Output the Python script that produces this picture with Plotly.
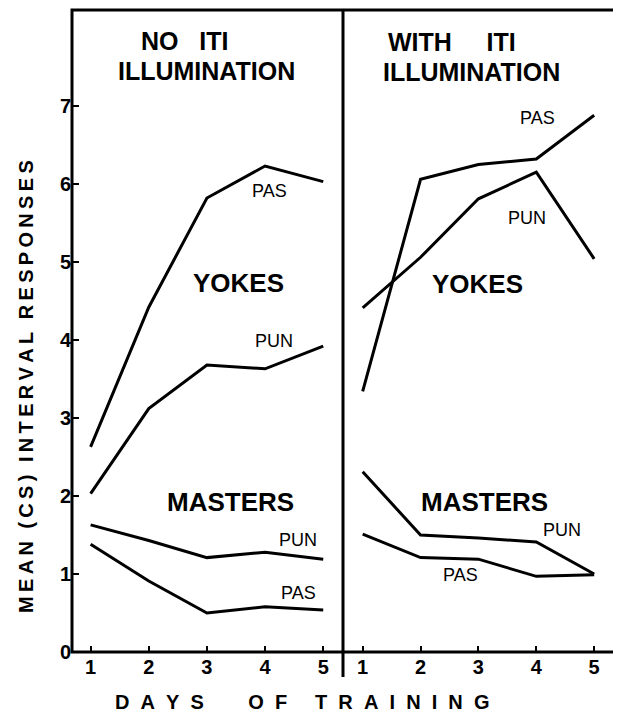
import plotly.graph_objects as go

days = [1, 2, 3, 4, 5]
ytick_vals = [0, 1, 2, 3, 4, 5, 6, 7]
ytick_text = ["0", "1", "2", "3", "4", "5", "6", "7"]
xtick_text = ["1", "2", "3", "4", "5"]

# No ITI illumination (left panel)
no_iti_yokes_pas = [2.63, 4.42, 5.82, 6.23, 6.03]
no_iti_yokes_pun = [2.03, 3.12, 3.68, 3.63, 3.92]
no_iti_masters_pun = [1.63, 1.43, 1.21, 1.28, 1.19]
no_iti_masters_pas = [1.38, 0.91, 0.50, 0.58, 0.54]

# With ITI illumination (right panel)
iti_yokes_pas = [3.34, 6.06, 6.25, 6.32, 6.88]
iti_yokes_pun = [4.41, 5.06, 5.81, 6.15, 5.04]
iti_masters_pun = [2.31, 1.50, 1.46, 1.41, 1.00]
iti_masters_pas = [1.51, 1.21, 1.19, 0.97, 0.99]

# page body has an 8px margin; figure drawn inside it
OFF = 8
W, H = 621 - OFF, 712 - OFF
# plot area in reference pixels: x 72..615, y 10..652
L, R, T, B = 72 - OFF, 621 - 615, 10 - OFF, 712 - 652
PW, PH = 615 - 72, 652 - 10
DIV = (343 - 72) / PW

def px(x):
    return (x - 72) / PW

def py(y):
    return (652 - y) / PH

FONT = "Liberation Sans"
LINE = dict(color="black", width=3)

fig = go.Figure()
for ys in [no_iti_yokes_pas, no_iti_yokes_pun, no_iti_masters_pun, no_iti_masters_pas]:
    fig.add_trace(go.Scatter(x=days, y=ys, mode="lines", line=LINE,
                             xaxis="x", yaxis="y", showlegend=False, hoverinfo="skip"))
for ys in [iti_yokes_pas, iti_yokes_pun, iti_masters_pun, iti_masters_pas]:
    fig.add_trace(go.Scatter(x=days, y=ys, mode="lines", line=LINE,
                             xaxis="x2", yaxis="y", showlegend=False, hoverinfo="skip"))

tickfont = dict(family=FONT, size=20, color="black", weight="bold")
xcommon = dict(tickvals=days, ticktext=xtick_text, ticks="inside", ticklen=6,
               tickwidth=2, tickcolor="black", showgrid=False, zeroline=False,
               showline=False, tickfont=tickfont, ticklabelstandoff=1, anchor="y")

fig.update_layout(
    width=W, height=H,
    margin=dict(l=L, r=R, t=T, b=B, autoexpand=False),
    paper_bgcolor="white", plot_bgcolor="white",
    xaxis=dict(domain=[0, DIV], range=[0.68, 5.34], **xcommon),
    xaxis2=dict(domain=[DIV, 1], range=[0.66, 5.36], **xcommon),
    yaxis=dict(range=[0, 8.23], tickvals=ytick_vals, ticktext=ytick_text,
               ticks="inside", ticklen=7, tickwidth=2, tickcolor="black",
               showgrid=False, zeroline=False, showline=False, tickfont=tickfont),
)

# frame and divider
fig.add_shape(type="rect", xref="paper", yref="paper", x0=0, y0=0, x1=1, y1=1,
              line=dict(color="black", width=3))
fig.add_shape(type="line", xref="paper", yref="paper", x0=DIV, x1=DIV,
              y0=py(677), y1=1, line=dict(color="black", width=3))

def ann(text, x, y, size, bold=True, angle=0):
    fig.add_annotation(text=text, xref="paper", yref="paper", x=px(x), y=py(y),
                       showarrow=False, textangle=angle,
                       xanchor="center", yanchor="middle",
                       font=dict(family=FONT, size=size, color="black",
                                 weight="bold" if bold else "normal"))

NB = "\u00a0"

def gap(fs, n=1):
    return '<span style="font-size:%.1fpx">%s</span>' % (fs, NB * n)

def spaced(s, lgap, wgap):
    return wgap.join(lgap.join(list(w)) for w in s.split(" "))

# panel titles
ann("NO" + NB * 3 + "ITI", 185, 41, 25)
ann("ILLUMINATION", 206, 71, 25)
ann("WITH" + NB * 5 + "ITI", 452, 42, 25)
ann("ILLUMINATION", 471, 72, 25)

# group labels
ann("YOKES", 238, 283, 26)
ann("YOKES", 477, 284, 26)
ann("MASTERS", 230, 502, 26)
ann("MASTERS", 484, 502, 26)

# series labels
ann("PAS", 269, 191, 18, bold=False)
ann("PUN", 274, 341, 18, bold=False)
ann("PUN", 298, 540, 18, bold=False)
ann("PAS", 298, 593, 18, bold=False)
ann("PAS", 537, 118, 18, bold=False)
ann("PUN", 527, 218, 18, bold=False)
ann("PUN", 562, 530, 18, bold=False)
ann("PAS", 460, 575, 18, bold=False)

# axis titles
ann(spaced("MEAN (CS) INTERVAL RESPONSES", gap(15.5), gap(22.5, 2)), 25, 387, 20, angle=-90)
xt = "".join([
    spaced("DAYS", NB * 2, ""), NB * 8,
    spaced("OF", NB * 2, ""), NB * 5,
    spaced("TRAINING", NB * 2, ""),
])
ann(xt, 302, 702, 20)

fig.write_html("out.html")
